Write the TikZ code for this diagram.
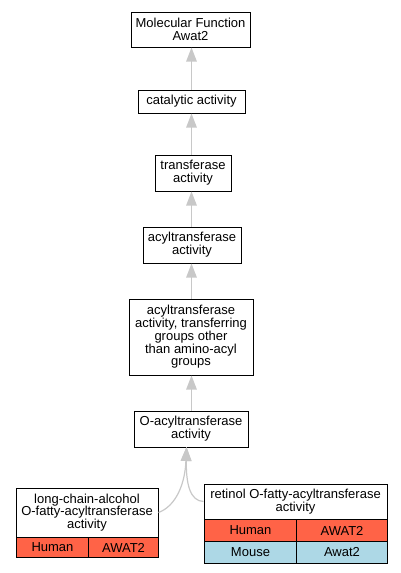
\documentclass[tikz,border=0pt]{standalone}
\usepackage{fontspec}
\setmainfont{Liberation Sans}
\usetikzlibrary{arrows.meta}
\definecolor{edgegray}{HTML}{C8C8C8}
\definecolor{humanred}{HTML}{FF6347}
\definecolor{mouseblue}{HTML}{ADD8E6}

\begin{document}
\begin{tikzpicture}[x=1pt,y=-1pt,every node/.style={font=\fontsize{13}{12.8}\selectfont},term/.style={draw,line width=1pt,fill=white,align=center,inner sep=0pt},cell/.style={draw,line width=1pt,inner sep=0pt,minimum height=22pt,anchor=north west},arr/.style={-{Triangle[length=14pt,width=10.5pt]},draw=edgegray,line width=1.2pt}]
\useasboundingbox (0,0) rectangle (401,573);
\node[term,minimum width=119pt,minimum height=35pt] (mf) at (190.5,29.5) {Molecular Function\\Awat2};
\node[term,minimum width=107pt,minimum height=23pt] (cat) at (191.5,101.5) {catalytic activity};
\node[term,minimum width=76pt,minimum height=36pt] (trans) at (193,173) {transferase\\activity};
\node[term,minimum width=98pt,minimum height=36pt] (acyl) at (192,245) {acyltransferase\\activity};
\node[term,minimum width=124pt,minimum height=76pt] (acylother) at (191,337) {acyltransferase\\activity, transferring\\groups other\\than amino-acyl\\groups};
\node[term,minimum width=114pt,minimum height=36pt] (oacyl) at (191,429) {O-acyltransferase\\activity};
% annotated leaf terms
\node[term,minimum width=142pt,minimum height=49pt] (lcalc) at (87,512.5) {long-chain-alcohol\\O-fatty-acyltransferase\\activity};
\node[cell,fill=humanred,minimum width=72pt,minimum height=20pt] (lchuman) at (16,537) {Human};
\node[cell,fill=humanred,minimum width=70pt,minimum height=20pt] (lcgene) at (88,537) {AWAT2};
\node[term,minimum width=183pt,minimum height=35pt] (retinol) at (295.5,501.5) {retinol O-fatty-acyltransferase\\activity};
\node[cell,fill=humanred,minimum width=92pt] (rthuman) at (204,519) {Human};
\node[cell,fill=humanred,minimum width=91pt] (rtgene) at (296,519) {AWAT2};
\node[cell,fill=mouseblue,minimum width=92pt] (rtmouse) at (204,541) {Mouse};
\node[cell,fill=mouseblue,minimum width=91pt] (rtmgene) at (296,541) {Awat2};
\coordinate (oacylin) at (186.5,447);
\draw[arr] (cat) -- (mf.south -| cat.north);
\draw[arr] (trans.north -| cat.south) -- (cat);
\draw[arr] (acyl.north -| cat.south) -- (trans.south -| cat.south);
\draw[arr] (acylother.north -| cat.south) -- (acyl.south -| cat.south);
\draw[arr] (oacyl.north -| cat.south) -- (acylother.south -| cat.south);
\draw[arr] (lcalc.east) .. controls (176,506) and (185,484) .. (oacylin);
\draw[arr] (retinol.west) .. controls (190,501) and (186,484) .. (oacylin);
\end{tikzpicture}
\end{document}
